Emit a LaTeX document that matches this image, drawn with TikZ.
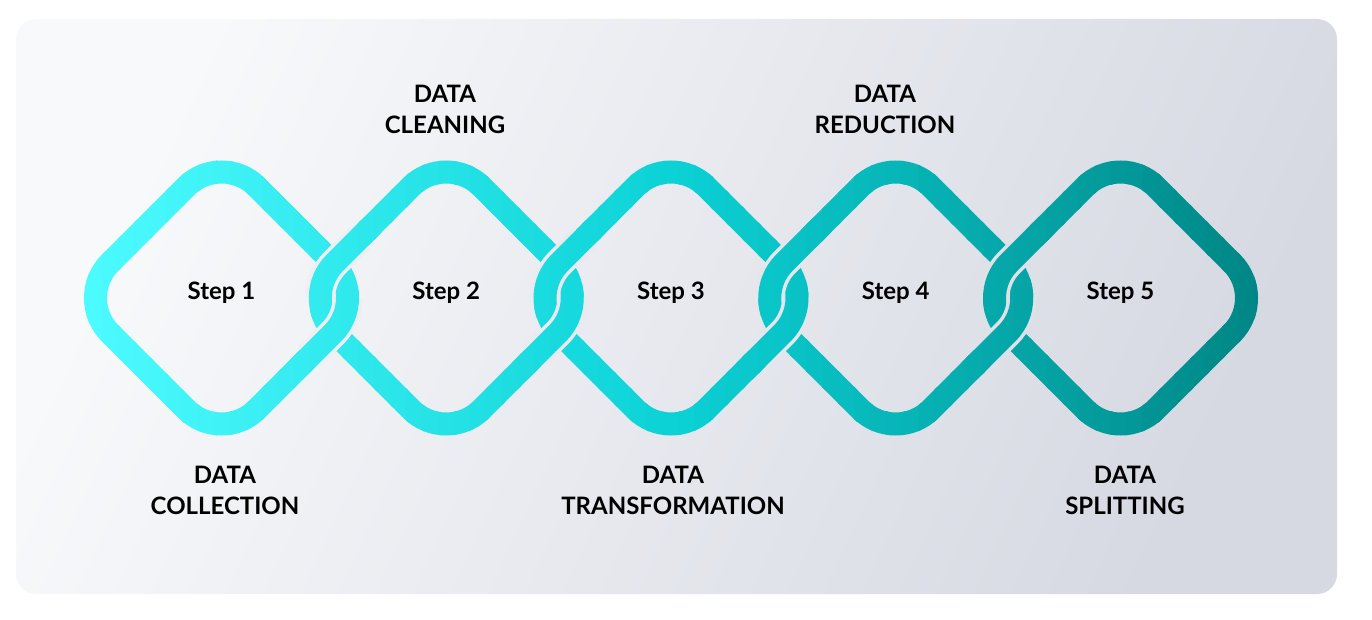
\documentclass[tikz,border=0pt]{standalone}
\usepackage{fontspec}
\setmainfont{Lato}

\definecolor{bgLight}{HTML}{F8F9FB}
\definecolor{bgDark}{HTML}{D6D9E2}
\definecolor{gapL}{HTML}{F3F4F7}
\definecolor{gapR}{HTML}{DADCE4}
\definecolor{chainA}{HTML}{4DFBFF}
\definecolor{chainB}{HTML}{0BD2D6}
\definecolor{chainC}{HTML}{008686}

\tikzset{
  link/.style={line width=11.5pt, rounded corners=25pt, draw=linkcol},
  linkgap/.style={line width=15pt, rounded corners=25pt, draw=gapcol},
  steplabel/.style={font=\bfseries\fontsize{12}{14}\selectfont, anchor=base},
  stagelabel/.style={font=\bfseries\fontsize{12}{15.5}\selectfont, align=center, anchor=base}
}

% one rounded diamond, its left / right corners, and the shorter gap cuts
\newcommand{\chainlink}[1]{({#1-73.35},224.65) -- (#1,151.3) -- ({#1+146.7},298) -- (#1,444.7) -- ({#1-146.7},298) -- cycle}
\newcommand{\leftcorner}[1]{({#1-73.35},224.65) -- ({#1-146.7},298) -- ({#1-73.35},371.35)}
\newcommand{\rightcorner}[1]{({#1+73.35},224.65) -- ({#1+146.7},298) -- ({#1+73.35},371.35)}
\newcommand{\leftcut}[1]{({#1-86.7},238) -- ({#1-146.7},298) -- ({#1-86.7},358)}
\newcommand{\rightcut}[1]{({#1+86.7},238) -- ({#1+146.7},298) -- ({#1+86.7},358)}

% the five links, interlocked
\newcommand{\drawchain}{%
  \draw[link] \chainlink{221.5};
  \draw[link] \chainlink{446.25};
  \draw[link] \chainlink{671};
  \draw[link] \chainlink{895.75};
  \draw[link] \chainlink{1120.5};
  % upper crossings: right link on top
  \begin{scope}
    \clip (221.5,140) rectangle (1120.5,298);
    \draw[linkgap] \leftcut{446.25};  \draw[link] \leftcorner{446.25};
    \draw[linkgap] \leftcut{671};     \draw[link] \leftcorner{671};
    \draw[linkgap] \leftcut{895.75};  \draw[link] \leftcorner{895.75};
    \draw[linkgap] \leftcut{1120.5};  \draw[link] \leftcorner{1120.5};
  \end{scope}
  % lower crossings: left link on top
  \begin{scope}
    \clip (221.5,298) rectangle (1120.5,460);
    \draw[linkgap] \rightcut{221.5};  \draw[link] \rightcorner{221.5};
    \draw[linkgap] \rightcut{446.25}; \draw[link] \rightcorner{446.25};
    \draw[linkgap] \rightcut{671};    \draw[link] \rightcorner{671};
    \draw[linkgap] \rightcut{895.75}; \draw[link] \rightcorner{895.75};
  \end{scope}%
}

\begin{document}
\begin{tikzpicture}[x=0.5pt, y=-0.5pt]
  \useasboundingbox (0,0) rectangle (1372,620);
  \shade[rounded corners=10pt, top color=bgLight, bottom color=bgDark, shading angle=65] (16,19) rectangle (1337,594);

  % chain, in thin vertical strips for the colour ramp
  \foreach \x in {70,86,...,1270} {
    \pgfmathtruncatemacro\p{min(200,max(0,(\x+8-84)/1174*200))}
    \pgfmathtruncatemacro\q{min(100,max(0,(\x+8-84)/1174*100))}
    \ifnum\p<101 \colorlet{linkcol}{chainB!\p!chainA}
    \else \pgfmathtruncatemacro\pp{\p-100}\colorlet{linkcol}{chainC!\pp!chainB}\fi
    \colorlet{gapcol}{gapR!\q!gapL}
    \begin{scope}
      \clip (\x,140) rectangle (\x+19,460);
      \drawchain
    \end{scope}
  }

  \node[steplabel] (step1) at (221.5,300) {Step 1};
  \node[steplabel] (step2) at (446.25,300) {Step 2};
  \node[steplabel] (step3) at (671,300) {Step 3};
  \node[steplabel] (step4) at (895.75,300) {Step 4};
  \node[steplabel] (step5) at (1120.5,300) {Step 5};

  \node[stagelabel] (cleaning) at (445,134) {DATA\\CLEANING};
  \node[stagelabel] (reduction) at (885,134) {DATA\\REDUCTION};
  \node[stagelabel] (collection) at (225,514) {DATA\\COLLECTION};
  \node[stagelabel] (transformation) at (673,514) {DATA\\TRANSFORMATION};
  \node[stagelabel] (splitting) at (1125,514) {DATA\\SPLITTING};
\end{tikzpicture}
\end{document}
